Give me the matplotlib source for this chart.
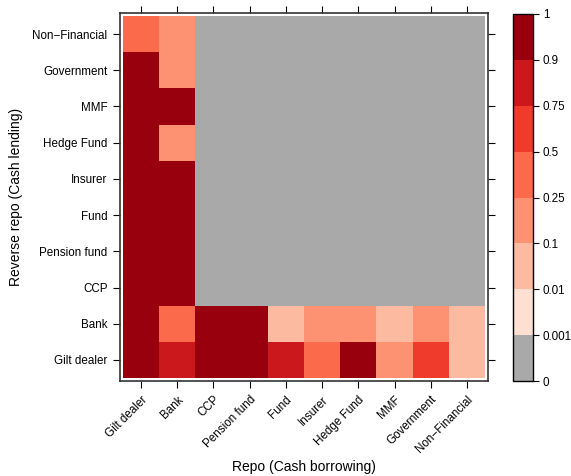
import numpy as np
import matplotlib.pyplot as plt
from matplotlib.colors import ListedColormap, BoundaryNorm

plt.rcParams['font.family'] = ['Liberation Sans', 'DejaVu Sans']

sectors = ['Gilt dealer', 'Bank', 'CCP', 'Pension fund', 'Fund', 'Insurer',
           'Hedge Fund', 'MMF', 'Government', 'Non\u2212Financial']

# share of repo activity, rows = reverse repo (lender), cols = repo (borrower)
gilt_dealer = [0.95, 0.8, 0.95, 0.95, 0.8, 0.3, 0.95, 0.15, 0.6, 0.05]
bank = [0.95, 0.3, 0.95, 0.95, 0.05, 0.15, 0.15, 0.05, 0.15, 0.05]
ccp = [0.95, 0.95, 0, 0, 0, 0, 0, 0, 0, 0]
pension_fund = [0.95, 0.95, 0, 0, 0, 0, 0, 0, 0, 0]
fund = [0.95, 0.95, 0, 0, 0, 0, 0, 0, 0, 0]
insurer = [0.95, 0.95, 0, 0, 0, 0, 0, 0, 0, 0]
hedge_fund = [0.95, 0.15, 0, 0, 0, 0, 0, 0, 0, 0]
mmf = [0.95, 0.95, 0, 0, 0, 0, 0, 0, 0, 0]
government = [0.95, 0.15, 0, 0, 0, 0, 0, 0, 0, 0]
non_financial = [0.3, 0.15, 0, 0, 0, 0, 0, 0, 0, 0]

levels = [0, 0.001, 0.01, 0.1, 0.25, 0.5, 0.75, 0.9, 1]
level_labels = ['0', '0.001', '0.01', '0.1', '0.25', '0.5', '0.75', '0.9', '1']
colors = ['#A9A9A9', '#FEE0D2', '#FCBBA1', '#FC9272', '#FB6A4A',
          '#EF3B2C', '#CB181D', '#99000D']

grid = np.array([gilt_dealer, bank, ccp, pension_fund, fund, insurer,
                 hedge_fund, mmf, government, non_financial])

cmap = ListedColormap(colors)
norm = BoundaryNorm(levels, cmap.N)

fig = plt.figure(figsize=(5.71, 4.76), dpi=100)
W, H = 571, 476
ax = fig.add_axes([120 / W, 1 - 381 / H, 368 / W, 368 / H])
cax = fig.add_axes([513 / W, 1 - 381 / H, 20 / W, 367 / H])

n = len(sectors)
x = np.arange(n + 1) - 0.5
ax.pcolormesh(x, x, grid, cmap=cmap, norm=norm)
pad = 0.08
ax.set_xlim(-0.5 - pad, n - 0.5 + pad)
ax.set_ylim(-0.5 - pad, n - 0.5 + pad)

ax.set_xticks(range(n))
ax.set_yticks(range(n))
ax.set_xticklabels(sectors, rotation=45, ha='right', rotation_mode='anchor',
                   fontsize=8.4)
ax.set_yticklabels(sectors, fontsize=8.4)
ax.tick_params(direction='out', length=5, width=0.8, top=True, right=True,
               labeltop=False, labelright=False, pad=4)
for s in ax.spines.values():
    s.set_color('#333333')
    s.set_linewidth(1.2)

fig.text(304 / W, 1 - 467 / H, 'Repo (Cash borrowing)', ha='center',
         va='center', fontsize=10)
fig.text(16 / W, 1 - 197 / H, 'Reverse repo (Cash lending)', ha='center',
         va='center', rotation=90, fontsize=10)

cb = fig.colorbar(plt.cm.ScalarMappable(norm=norm, cmap=cmap), cax=cax,
                  spacing='uniform')
cb.set_ticks(levels)
cb.set_ticklabels(level_labels)
cb.ax.tick_params(length=4, width=0.8, labelsize=8.4, pad=3)
cb.outline.set_linewidth(1)

fig.savefig('out.png', dpi=100)
